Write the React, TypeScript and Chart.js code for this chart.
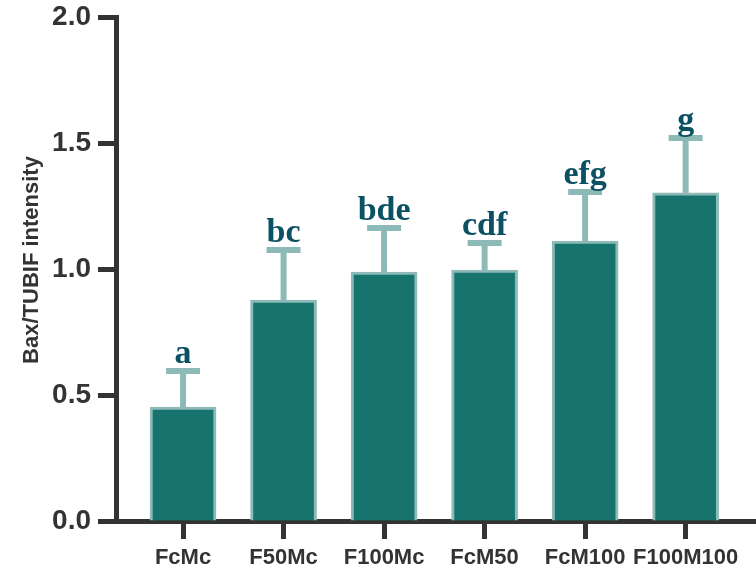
import React, { useEffect, useRef } from "react";
import { Chart, registerables } from "chart.js";

Chart.register(...registerables);

const categories = ["FcMc", "F50Mc", "F100Mc", "FcM50", "FcM100", "F100M100"];
const means = [0.452, 0.877, 0.988, 0.996, 1.111, 1.302];
const errors = [0.143, 0.198, 0.175, 0.107, 0.195, 0.218];
const letters = ["a", "bc", "bde", "cdf", "efg", "g"];
const yTicks = [0, 0.5, 1.0, 1.5, 2.0];
const yTitle = "Bax/TUBIF intensity";

const AXIS = "#333333";
const FILL = "#16736e";
const EDGE = "#8dbab7";
const LETTER = "#0c5063";

const annotPlugin = {
  id: "annot",
  afterDatasetsDraw(chart: any) {
    const { ctx, scales } = chart;
    const xs = scales.x;
    const ys = scales.y;
    ctx.save();
    ctx.strokeStyle = EDGE;
    ctx.lineCap = "butt";
    means.forEach((m, i) => {
      const x = xs.getPixelForValue(i);
      const yb = ys.getPixelForValue(m);
      const yt = ys.getPixelForValue(m + errors[i]);
      ctx.lineWidth = 6;
      ctx.beginPath();
      ctx.moveTo(x, yb);
      ctx.lineTo(x, yt);
      ctx.stroke();
      ctx.beginPath();
      ctx.moveTo(x - 17, yt);
      ctx.lineTo(x + 17, yt);
      ctx.stroke();
      ctx.fillStyle = LETTER;
      ctx.font = "bold 34px 'Liberation Serif', 'Times New Roman', serif";
      ctx.textAlign = "center";
      ctx.textBaseline = "alphabetic";
      ctx.fillText(letters[i], x, yt - 8);
    });
    ctx.restore();
  },
  afterDraw(chart: any) {
    const { ctx } = chart;
    ctx.save();
    ctx.translate(32, 260);
    ctx.rotate(-Math.PI / 2);
    ctx.fillStyle = AXIS;
    ctx.font = "bold 22px 'Liberation Sans', Arial, sans-serif";
    ctx.textAlign = "center";
    ctx.textBaseline = "middle";
    ctx.fillText(yTitle, 0, 0);
    ctx.restore();
  },
};

export default function App() {
  const ref = useRef<HTMLCanvasElement>(null);
  useEffect(() => {
    document.body.style.margin = "0";
    const chart = new Chart(ref.current as HTMLCanvasElement, {
      type: "bar",
      data: {
        datasets: [
          {
            data: means.map((m, i) => ({ x: i, y: m })),
            backgroundColor: FILL,
            borderColor: EDGE,
            borderWidth: 3,
            borderSkipped: "start",
            barThickness: 66,
          },
        ],
      },
      options: {
        animation: false,
        responsive: false,
        maintainAspectRatio: false,
        layout: { padding: { top: 17, left: 0, right: 0, bottom: 0 } },
        plugins: { legend: { display: false }, tooltip: { enabled: false } },
        scales: {
          x: {
            type: "linear",
            offset: false,
            min: -0.667,
            max: 5.7,
            afterBuildTicks: (scale: any) => {
              scale.ticks = categories.map((_, i) => ({ value: i }));
            },
            afterFit: (scale: any) => {
              scale.height = 51;
              scale.paddingLeft = 0;
              scale.paddingRight = 0;
            },
            ticks: {
              autoSkip: false,
              maxRotation: 0,
              padding: 6,
              color: AXIS,
              font: { family: "'Liberation Sans', Arial, sans-serif", size: 22, weight: "bold" },
              callback: (v: any) => categories[v] ?? "",
            },
            grid: {
              offset: false,
              drawOnChartArea: false,
              drawTicks: true,
              tickLength: 18,
              tickWidth: 5,
              tickColor: AXIS,
            },
            border: { display: true, color: AXIS, width: 5 },
          },
          y: {
            type: "linear",
            min: 0,
            max: 2,
            afterBuildTicks: (scale: any) => {
              scale.ticks = yTicks.map((v) => ({ value: v }));
            },
            afterFit: (scale: any) => {
              scale.width = 116;
              scale.paddingTop = 0;
              scale.paddingBottom = 0;
            },
            ticks: {
              padding: 7,
              color: AXIS,
              font: { family: "'Liberation Sans', Arial, sans-serif", size: 28, weight: "bold" },
              callback: (v: any) => Number(v).toFixed(1),
            },
            grid: {
              drawOnChartArea: false,
              drawTicks: true,
              tickLength: 18,
              tickWidth: 5,
              tickColor: AXIS,
            },
            border: { display: true, color: AXIS, width: 5 },
          },
        },
      },
      plugins: [annotPlugin],
    } as any);
    return () => chart.destroy();
  }, []);
  return <canvas ref={ref} width={756} height={572} style={{ display: "block" }} />;
}
